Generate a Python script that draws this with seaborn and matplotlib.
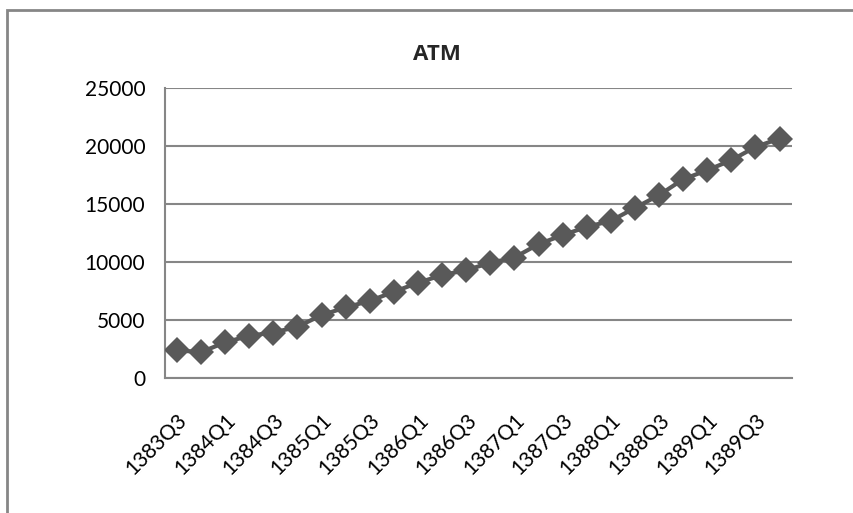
import pandas as pd
import matplotlib.pyplot as plt
import seaborn as sns
from matplotlib.patches import Rectangle
from matplotlib.ticker import FixedLocator

# quarterly ATM counts (Persian calendar quarters)
quarters = [
    "1383Q3", "1383Q4",
    "1384Q1", "1384Q2", "1384Q3", "1384Q4",
    "1385Q1", "1385Q2", "1385Q3", "1385Q4",
    "1386Q1", "1386Q2", "1386Q3", "1386Q4",
    "1387Q1", "1387Q2", "1387Q3", "1387Q4",
    "1388Q1", "1388Q2", "1388Q3", "1388Q4",
    "1389Q1", "1389Q2", "1389Q3", "1389Q4",
]
atm = [
    2400, 2230,
    3080, 3650, 3930, 4420,
    5430, 6090, 6660, 7440,
    8220, 8880, 9310, 9940,
    10400, 11550, 12330, 13040,
    13560, 14680, 15780, 17150,
    17930, 18790, 19940, 20660,
]
y_ticks = [0, 5000, 10000, 15000, 20000, 25000]

df = pd.DataFrame({"quarter": quarters, "atm": atm})
df["pos"] = range(len(df))

sns.set_style("white")
plt.rcParams["font.family"] = ["Lato", "DejaVu Sans"]

fig = plt.figure(figsize=(8.54, 5.13), dpi=100)
ax = fig.add_axes([0.193, 0.263, 0.734, 0.565])

grey = "#595959"
sns.lineplot(data=df, x="pos", y="atm", ax=ax, color=grey, linewidth=3,
             marker="D", markersize=13.5, markeredgewidth=0, zorder=3)

ax.set_xlim(-0.5, len(quarters) - 0.5)
ax.set_ylim(0, 25000)
ax.set_yticks(y_ticks)
ax.set_yticklabels([str(v) for v in y_ticks], fontsize=15, color="black")
ax.yaxis.grid(True, color="#868686", linewidth=1.5)
ax.set_axisbelow(True)

# labels every second quarter, tick marks between categories
ax.set_xticks(df["pos"][::2])
ax.set_xticklabels(quarters[::2], rotation=45, ha="right",
                   rotation_mode="anchor", fontsize=15, color="black")
ax.xaxis.set_minor_locator(FixedLocator([i - 0.5 for i in range(len(quarters) + 1)]))
ax.tick_params(axis="x", which="major", length=0, pad=23)
ax.tick_params(axis="x", which="minor", length=7, width=1.5, color="#868686")
ax.tick_params(axis="y", length=8, width=1.5, color="#868686", pad=6)

for s in ["top", "right"]:
    ax.spines[s].set_visible(False)
for s in ["left", "bottom"]:
    ax.spines[s].set_color("#868686")
    ax.spines[s].set_linewidth(1.5)

ax.set_xlabel("")
ax.set_ylabel("")
fig.text(0.512, 0.893, "ATM", ha="center", va="center",
         fontsize=16, fontweight="bold", family=["Open Sans", "DejaVu Sans"])

# chart area border (runs off the right and bottom edges)
fig.patches.append(Rectangle((7 / 854, -0.1), 1.2, 1.1 - 10 / 513,
                             transform=fig.transFigure, fill=False,
                             edgecolor="#868686", linewidth=2))

fig.savefig("out.png", dpi=100)
